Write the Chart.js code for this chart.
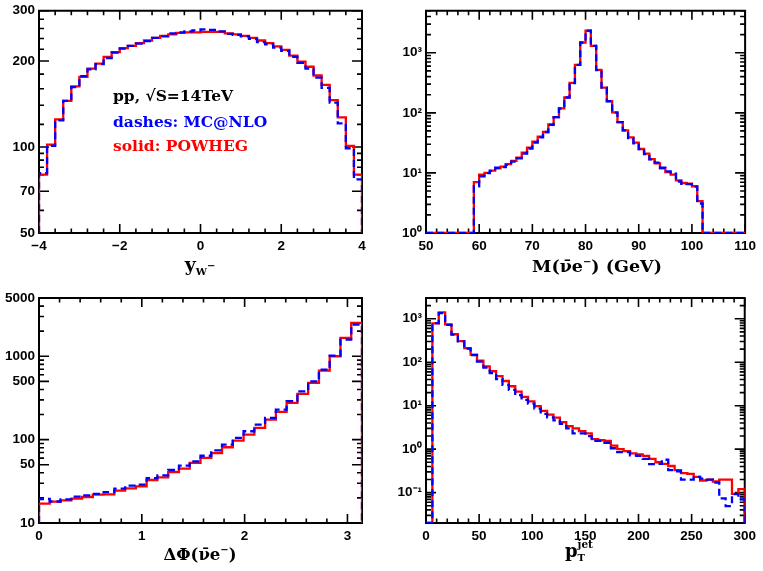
<!DOCTYPE html>
<html>
<head>
<meta charset="utf-8">
<script src="https://cdn.jsdelivr.net/npm/chart.js@4.4.1/dist/chart.umd.min.js"></script>
<style>
  html, body { margin:0; padding:0; background:#fff; width:763px; height:571px; overflow:hidden; }
  canvas { position:absolute; left:0; top:0; }
</style>
</head>
<body>
<canvas id="pRap" width="763" height="571"></canvas>
<canvas id="pMass" width="763" height="571"></canvas>
<canvas id="pPhi" width="763" height="571"></canvas>
<canvas id="pPt" width="763" height="571"></canvas>
<script>
// ================= DATA =================
// Panel 1: rapidity of W-, bins of 0.2 from -4 to 4
const rapidityStart = -4, rapidityWidth = 0.2;
const rapidityPowheg = [80, 102, 125, 145, 163, 176, 188, 196, 207, 215, 222, 226, 231, 236, 241, 245, 248, 251, 252, 252,
                        253, 253, 253, 250, 248, 245, 241, 236, 231, 225, 219, 209, 199, 191, 178, 165, 146, 127, 101, 80];
const rapidityMcatnlo = [81, 101, 124, 145, 162, 177, 187, 195, 205, 214, 221, 226, 230, 235, 241, 244, 250, 252, 254, 256,
                         258, 257, 254, 249, 247, 244, 239, 233, 229, 223, 217, 207, 197, 188, 175, 161, 143, 121, 99, 77];
const rapidityXTicks = [-4, -2, 0, 2, 4];
const rapidityXLabels = ['\u22124', '\u22122', '0', '2', '4'];
const rapidityYTicks = [50, 70, 100, 200, 300];
const rapidityYLabels = ['50', '70', '100', '200', '300'];

// Panel 2: invariant mass, 1 GeV bins from 59 to 102
const massStart = 59, massWidth = 1;
const massPowheg = [7.0, 9.4, 10, 10.9, 11.9, 12.7, 14.0, 15.9, 18, 21.8, 26.3, 33, 40, 48, 64, 85, 119, 181, 314, 628,
                    1476, 2323, 1303, 520, 263, 157, 102, 70, 51, 39, 32, 25, 21, 17, 14.4, 11.9, 10.3, 9.4, 7.5, 6.8,
                    6.6, 6.0, 3.4];
const massMcatnlo = [6.0, 8.8, 9.9, 10.8, 12.2, 12.5, 13.6, 15.4, 17.5, 21, 25.5, 32, 39, 48, 63, 85, 118, 180, 312, 630,
                     1480, 2330, 1300, 515, 262, 156, 101, 70, 51, 38, 31, 25, 20.5, 16.8, 14.8, 12.2, 10.6, 9.7, 7.2, 6.6,
                     6.5, 5.9, 3.1];
const massXTicks = [50, 60, 70, 80, 90, 100, 110];
const massXLabels = ['50', '60', '70', '80', '90', '100', '110'];
const massYTicks = [1, 10, 100, 1000];
const massYLabels = ['10\u2070', '10\u00b9', '10\u00b2', '10\u00b3'];

// Panel 3: azimuthal separation, 30 bins from 0 to pi
const phiStart = 0, phiWidth = Math.PI / 30;
const phiPowheg = [17.1, 18, 18.7, 19.6, 20.5, 21.9, 22.1, 24.4, 26.0, 27.5, 32.8, 35.3, 40.9, 44.9, 52.5, 60.3, 69, 81,
                   97.3, 115, 138, 174, 215, 276, 353, 479, 674, 1000, 1660, 2512];
const phiMcatnlo = [19.4, 18.1, 19.2, 20.7, 21.5, 22.3, 23.5, 25.8, 28.1, 28.8, 34.6, 37.3, 43.2, 48.7, 55, 64.1, 74.5, 87,
                    104.8, 126, 151, 182, 229, 289, 380, 501, 692, 1020, 1585, 2399];
const phiXTicks = [0, 1, 2, 3];
const phiXLabels = ['0', '1', '2', '3'];
const phiYTicks = [10, 50, 100, 500, 1000, 5000];
const phiYLabels = ['10', '50', '100', '500', '1000', '5000'];

// Panel 4: jet transverse momentum, 6 GeV bins from 6 to 300
const ptStart = 6, ptWidth = 6;
const ptPowheg = [780, 1400, 740, 440, 305, 210, 150, 108, 80,
                  62, 48, 37, 28, 21, 16, 12.5, 9.8, 7.6, 6.2,
                  5.3, 4.2, 3.4, 3.0, 2.6, 2.3, 1.7, 1.6, 1.55, 1.2,
                  1.0, 0.9, 0.8, 0.76, 0.7, 0.6, 0.5, 0.46, 0.41, 0.33,
                  0.28, 0.27, 0.23, 0.19, 0.2, 0.18, 0.2, 0.2, 0.094, 0.12];
const ptMcatnlo = [790, 1350, 720, 430, 300, 205, 145, 103, 75,
                   56, 41, 30, 23, 17.5, 13.6, 11.1, 8.6, 6.5, 5.4,
                   4.6, 3.8, 3.0, 2.3, 2.3, 2.0, 1.55, 1.55, 1.4, 1.05,
                   0.85, 0.85, 0.72, 0.7, 0.6, 0.45, 0.46, 0.57, 0.33, 0.31,
                   0.2, 0.2, 0.23, 0.21, 0.2, 0.17, 0.074, 0.049, 0.092, 0.07];
const ptXTicks = [0, 50, 100, 150, 200, 250, 300];
const ptXLabels = ['0', '50', '100', '150', '200', '250', '300'];
const ptYTicks = [0.1, 1, 10, 100, 1000];
const ptYLabels = ['10\u207b\u00b9', '10\u2070', '10\u00b9', '10\u00b2', '10\u00b3'];

// ================= HELPERS =================
const W = 763, H = 571, Y_AXIS_W = 34, X_AXIS_H = 26;
const RED = '#ff0000', BLUE = '#0000ff';
const SERIF = '"DejaVu Serif", serif';
const SANS = '"Liberation Sans", Arial, sans-serif';

function binEdges(start, width, n) {
  const e = [];
  for (let i = 0; i <= n; i++) e.push(start + i * width);
  return e;
}
function histPoints(edges, values, floor, xmin, xmax) {
  const pts = [];
  if (xmin < edges[0]) pts.push({x: xmin, y: floor});
  pts.push({x: edges[0], y: floor});
  for (let i = 0; i < values.length; i++) pts.push({x: edges[i], y: values[i]});
  pts.push({x: edges[values.length], y: floor});
  if (xmax > edges[values.length]) pts.push({x: xmax, y: floor});
  return pts;
}
function linMinors(min, max, step, majors) {
  const out = [];
  for (let k = Math.ceil(min / step - 1e-9); k * step <= max + 1e-9; k++) {
    const v = +(k * step).toFixed(6);
    if (!majors.some(m => Math.abs(m - v) < 1e-9)) out.push(v);
  }
  return out;
}
function logMinors(min, max, majors) {
  const out = [];
  for (let d = Math.pow(10, Math.floor(Math.log10(min))); d <= max; d *= 10) {
    for (let k = 1; k <= 9; k++) {
      const v = +(k * d).toPrecision(6);
      if (v < min - 1e-12 || v > max + 1e-9) continue;
      if (majors.some(m => Math.abs(m - v) / v < 1e-6)) continue;
      out.push(v);
    }
  }
  return out;
}

function framePlugin(cfg) {
  return {
    id: 'frameTicks',
    beforeDatasetsDraw(chart) {
      const {ctx, chartArea: a, scales: {x, y}} = chart;
      ctx.save();
      ctx.strokeStyle = '#000';
      ctx.lineCap = 'butt';
      ctx.lineWidth = 1.6;
      const drawX = (v, len) => {
        const px = x.getPixelForValue(v);
        ctx.beginPath();
        ctx.moveTo(px, a.bottom); ctx.lineTo(px, a.bottom - len);
        ctx.moveTo(px, a.top); ctx.lineTo(px, a.top + len);
        ctx.stroke();
      };
      const drawY = (v, len) => {
        const py = y.getPixelForValue(v);
        ctx.beginPath();
        ctx.moveTo(a.left, py); ctx.lineTo(a.left + len, py);
        ctx.moveTo(a.right, py); ctx.lineTo(a.right - len, py);
        ctx.stroke();
      };
      cfg.xTicks.forEach(v => drawX(v, 9));
      cfg.xMinor.forEach(v => drawX(v, 4.5));
      cfg.yTicks.forEach(v => drawY(v, 10));
      cfg.yMinor.forEach(v => drawY(v, 5));
      ctx.lineWidth = 2;
      ctx.strokeRect(a.left, a.top, a.right - a.left, a.bottom - a.top);
      ctx.restore();
    }
  };
}

function textPlugin(items) {
  return {
    id: 'richTexts',
    afterDraw(chart) {
      const ctx = chart.ctx;
      ctx.save();
      ctx.textBaseline = 'alphabetic';
      ctx.textAlign = 'left';
      for (const it of items) {
        let total = 0;
        const widths = it.runs.map(r => {
          ctx.font = `bold ${r.size}px ${it.family}`;
          const w = ctx.measureText(r.t).width;
          if (r.adv !== false) total += w;
          return w;
        });
        let x = it.align === 'center' ? it.x - total / 2 : it.x;
        it.runs.forEach((r, i) => {
          ctx.font = `bold ${r.size}px ${it.family}`;
          ctx.fillStyle = r.color || it.color || '#000';
          ctx.fillText(r.t, x, it.y + (r.dy || 0));
          if (r.adv !== false) x += widths[i];
        });
      }
      ctx.restore();
    }
  };
}

function makePanel(id, cfg) {
  const pad = {
    left: cfg.area.left - Y_AXIS_W,
    top: cfg.area.top,
    right: W - cfg.area.right,
    bottom: H - cfg.area.bottom - X_AXIS_H
  };
  const tickFont = {family: SANS, size: 13.5, weight: 'bold', lineHeight: 1};
  const chart = new Chart(document.getElementById(id), {
    type: 'line',
    data: {
      datasets: [
        {label: 'MC@NLO', data: histPoints(cfg.edges, cfg.blue, cfg.yMin, cfg.xMin, cfg.xMax),
         borderColor: BLUE, borderWidth: 2.3, borderDash: [7, 4], stepped: 'before', pointRadius: 0, fill: false},
        {label: 'POWHEG', data: histPoints(cfg.edges, cfg.red, cfg.yMin, cfg.xMin, cfg.xMax),
         borderColor: RED, borderWidth: 2.3, stepped: 'before', pointRadius: 0, fill: false}
      ]
    },
    options: {
      responsive: false, animation: false, devicePixelRatio: 1,
      events: [],
      layout: {padding: pad},
      plugins: {legend: {display: false}, tooltip: {enabled: false}},
      scales: {
        x: {
          type: 'linear', min: cfg.xMin, max: cfg.xMax,
          grid: {display: false, drawTicks: false}, border: {display: false},
          ticks: {autoSkip: false, maxRotation: 0, minRotation: 0, padding: 7, color: '#000', font: tickFont,
                  callback: (v, i) => cfg.xLabels[i]},
          afterBuildTicks: s => { s.ticks = cfg.xTicks.map(v => ({value: v})); },
          afterFit: s => { s.height = X_AXIS_H; }
        },
        y: {
          type: 'logarithmic', min: cfg.yMin, max: cfg.yMax,
          grid: {display: false, drawTicks: false}, border: {display: false},
          ticks: {autoSkip: false, padding: 4, color: '#000', font: tickFont,
                  callback: (v, i) => cfg.yLabels[i]},
          afterBuildTicks: s => { s.ticks = cfg.yTicks.map(v => ({value: v})); },
          afterFit: s => { s.width = Y_AXIS_W; }
        }
      }
    },
    plugins: [framePlugin(cfg), textPlugin(cfg.texts)]
  });
  // make sure the plot area lands where intended
  for (let k = 0; k < 3; k++) {
    const a = chart.chartArea, t = cfg.area;
    const dl = t.left - a.left, dt = t.top - a.top, dr = a.right - t.right, db = a.bottom - t.bottom;
    if (Math.abs(dl) + Math.abs(dt) + Math.abs(dr) + Math.abs(db) < 0.5) break;
    const p = chart.config.options.layout.padding;
    chart.config.options.layout.padding = {left: p.left + dl, top: p.top + dt, right: p.right + dr, bottom: p.bottom + db};
    chart.update('none');
  }
  return chart;
}

// ================= PANELS =================
makePanel('pRap', {
  area: {left: 39, top: 8, right: 362, bottom: 233},
  edges: binEdges(rapidityStart, rapidityWidth, rapidityPowheg.length),
  red: rapidityPowheg, blue: rapidityMcatnlo,
  xMin: -4, xMax: 4, yMin: 50, yMax: 300,
  xTicks: rapidityXTicks, xLabels: rapidityXLabels, xMinor: linMinors(-4, 4, 0.4, rapidityXTicks),
  yTicks: rapidityYTicks, yLabels: rapidityYLabels,
  yMinor: [60, 80, 85, 90, 95, 120, 140, 160, 180, 220, 240, 260, 280],
  texts: [
    {x: 113, y: 101, align: 'left', family: SERIF, color: '#000', runs: [{t: 'pp, \u221aS=14TeV', size: 15.5}]},
    {x: 113, y: 127, align: 'left', family: SERIF, color: BLUE, runs: [{t: 'dashes: MC@NLO', size: 15.5}]},
    {x: 113, y: 151, align: 'left', family: SERIF, color: RED, runs: [{t: 'solid: POWHEG', size: 15.5}]},
    {x: 200, y: 271, align: 'center', family: SERIF, runs: [
      {t: 'y', size: 19}, {t: 'W', size: 10, dy: 4}, {t: '\u2212', size: 10, dy: -2}]}
  ]
});

makePanel('pMass', {
  area: {left: 426, top: 8, right: 748, bottom: 233},
  edges: binEdges(massStart, massWidth, massPowheg.length),
  red: massPowheg, blue: massMcatnlo,
  xMin: 50, xMax: 110, yMin: 1, yMax: 5000,
  xTicks: massXTicks, xLabels: massXLabels, xMinor: linMinors(50, 110, 2, massXTicks),
  yTicks: massYTicks, yLabels: massYLabels, yMinor: logMinors(1, 5000, massYTicks),
  texts: [
    {x: 597, y: 272, align: 'center', family: SERIF, runs: [
      {t: 'M(\u03bd\u0304e', size: 17.5}, {t: '\u2212', size: 10, dy: -7}, {t: ') (GeV)', size: 17.5}]}
  ]
});

makePanel('pPhi', {
  area: {left: 39, top: 298, right: 362, bottom: 523},
  edges: binEdges(phiStart, phiWidth, phiPowheg.length),
  red: phiPowheg, blue: phiMcatnlo,
  xMin: 0, xMax: Math.PI, yMin: 10, yMax: 5000,
  xTicks: phiXTicks, xLabels: phiXLabels, xMinor: linMinors(0, Math.PI, 0.2, phiXTicks),
  yTicks: phiYTicks, yLabels: phiYLabels, yMinor: logMinors(10, 5000, phiYTicks),
  texts: [
    {x: 200, y: 560, align: 'center', family: SERIF, runs: [
      {t: '\u0394\u03a6(\u03bd\u0304e', size: 16.5}, {t: '\u2212', size: 10, dy: -7}, {t: ')', size: 16.5}]}
  ]
});

makePanel('pPt', {
  area: {left: 426, top: 298, right: 748, bottom: 523},
  edges: binEdges(ptStart, ptWidth, ptPowheg.length),
  red: ptPowheg, blue: ptMcatnlo,
  xMin: 0, xMax: 300, yMin: 0.02, yMax: 3000,
  xTicks: ptXTicks, xLabels: ptXLabels, xMinor: linMinors(0, 300, 10, ptXTicks),
  yTicks: ptYTicks, yLabels: ptYLabels, yMinor: logMinors(0.02, 3000, ptYTicks),
  texts: [
    {x: 565, y: 557, align: 'left', family: SERIF, runs: [
      {t: 'p', size: 18}, {t: 'T', size: 10, dy: 4, adv: false}, {t: 'jet', size: 10.5, dy: -9}]}
  ]
});
</script>
</body>
</html>
